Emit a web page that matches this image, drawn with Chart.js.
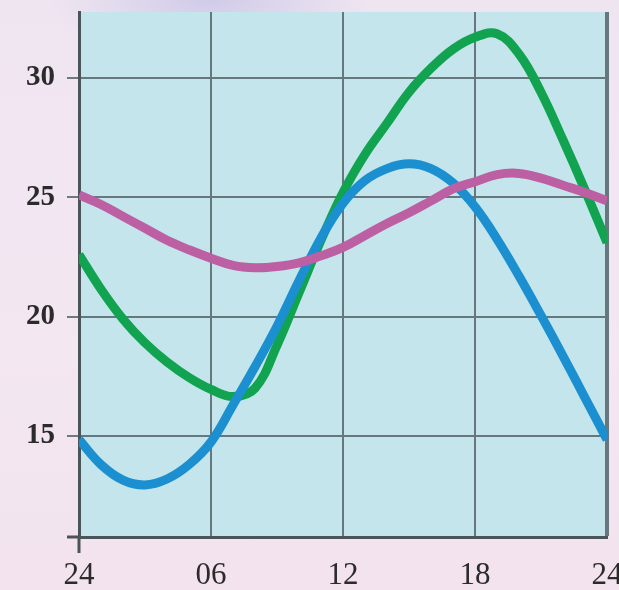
<!DOCTYPE html>
<html>
<head>
<meta charset="utf-8">
<script src="https://cdn.jsdelivr.net/npm/chart.js@4.4.1/dist/chart.umd.min.js"></script>
<style>
  html, body { margin: 0; padding: 0; }
  body {
    width: 619px; height: 590px; overflow: hidden;
    background:
      radial-gradient(ellipse 160px 60px at 210px 0px, rgba(200,196,230,0.8), rgba(200,196,230,0) 100%),
      linear-gradient(180deg, #efe5f1 0%, #f3e7f1 60%, #f2e3ee 100%);
  }
  #wrap { width: 619px; height: 590px; }
</style>
</head>
<body>
<div id="wrap"><canvas id="grafico"></canvas></div>
<script>
// ore del giorno (0 = 24 della notte prima)
const hours = [0,1,2,3,4,5,6,7,8,9,10,11,12,13,14,15,16,17,18,19,20,21,22,23,24];
const pinkTemps  = [25.1,24.7,24.2,23.7,23.2,22.8,22.45,22.15,22.05,22.1,22.25,22.55,22.9,23.4,23.9,24.35,24.85,25.35,25.65,25.95,26.0,25.8,25.5,25.2,24.85];
const blueTemps  = [14.85,13.8,13.15,12.95,13.2,13.8,14.75,16.3,17.9,19.6,21.5,23.3,24.75,25.7,26.2,26.4,26.2,25.6,24.6,23.25,21.7,20.05,18.35,16.6,14.85];
const greenTemps = [22.6,21.15,19.9,18.9,18.1,17.45,16.95,16.65,17.0,18.8,21.0,23.2,25.2,26.8,28.1,29.4,30.4,31.2,31.7,31.85,31.0,29.4,27.4,25.3,23.1];
const xTicks = [0, 6, 12, 18, 24];
const xTickLabels = ['24', '06', '12', '18', '24'];
const yTicks = [15, 20, 25, 30];

const ctx = document.getElementById('grafico').getContext('2d');

function serie(valori, colore) {
  return {
    data: hours.map((h, i) => ({ x: h, y: valori[i] })),
    borderColor: colore,
    borderWidth: 9,
    pointRadius: 0,
    tension: 0.4,
    fill: false
  };
}

// sfondo azzurro dell'area del grafico + prolungamenti degli assi
const sfondo = {
  id: 'sfondo',
  beforeDraw(chart) {
    const { ctx, chartArea: a } = chart;
    ctx.save();
    ctx.fillStyle = '#c3e5eb';
    ctx.fillRect(a.left, a.top, a.right - a.left, a.bottom - a.top);
    ctx.restore();
  },
  afterDraw(chart) {
    const { ctx, chartArea: a } = chart;
    ctx.save();
    ctx.strokeStyle = '#4a5459';
    ctx.lineWidth = 3;
    ctx.beginPath();
    ctx.moveTo(a.left - 12, a.bottom);
    ctx.lineTo(a.left, a.bottom);
    ctx.moveTo(a.left, a.bottom);
    ctx.lineTo(a.left, a.bottom + 16);
    ctx.stroke();
    ctx.restore();
  }
};

new Chart(ctx, {
  type: 'line',
  data: {
    datasets: [
      serie(pinkTemps, '#bd5fa3'),
      serie(blueTemps, '#1b8fd0'),
      serie(greenTemps, '#11a350')
    ]
  },
  options: {
    responsive: true,
    maintainAspectRatio: false,
    animation: false,
    layout: { padding: { left: 0, right: 12, top: 12, bottom: 0 } },
    plugins: {
      legend: { display: false },
      tooltip: { enabled: false }
    },
    scales: {
      x: {
        type: 'linear',
        min: 0,
        max: 24,
        afterBuildTicks: (scale) => { scale.ticks = xTicks.map(v => ({ value: v })); },
        afterFit: (scale) => {
          scale.height = 53;
          scale.paddingLeft = 0;
          scale.paddingRight = 0;
        },
        ticks: {
          autoSkip: false,
          maxRotation: 0,
          padding: 20,
          color: '#2b2b2b',
          font: { family: 'Liberation Serif', size: 31 },
          callback: (v) => xTickLabels[xTicks.indexOf(v)]
        },
        grid: {
          color: '#66777d',
          lineWidth: (c) => (c.index === 4 ? 4 : 2),
          drawTicks: false
        },
        border: { color: '#4a5459', width: 3 }
      },
      y: {
        min: 10.77,
        max: 32.76,
        afterBuildTicks: (scale) => { scale.ticks = yTicks.map(v => ({ value: v })); },
        afterFit: (scale) => {
          scale.width = 79;
          scale.paddingTop = 0;
          scale.paddingBottom = 0;
        },
        ticks: {
          padding: 12,
          color: '#2b2b2b',
          font: { family: 'Liberation Serif', size: 29, weight: 'bold' }
        },
        grid: {
          color: '#66777d',
          lineWidth: 2,
          tickLength: 12,
          tickColor: '#6d7b80'
        },
        border: { color: '#4a5459', width: 3 }
      }
    }
  },
  plugins: [sfondo]
});
</script>
</body>
</html>
